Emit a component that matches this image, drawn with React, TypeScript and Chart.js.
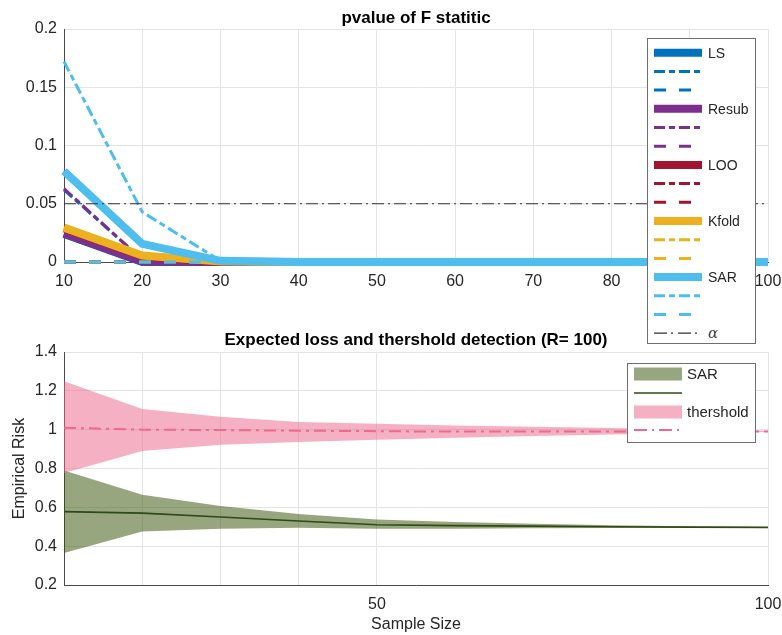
import React, { useEffect, useRef } from 'react';
import { Chart, registerables } from 'chart.js';

Chart.register(...registerables);

// ---------- shared ----------
const FONT = "'Liberation Sans', Arial, Helvetica, sans-serif";
const TEXT = '#262626';
const GRID = '#e4e4e4';
const AXIS = '#4a4a4a';

// ---------- top chart data ----------
const sampleSizes = [10, 20, 30, 40, 50, 60, 70, 80, 90, 100];
const topXTicks = [10, 20, 30, 40, 50, 60, 70, 80, 90, 100];
const pTicks = [0, 0.05, 0.1, 0.15, 0.2];
const methods = ['LS', 'Resub', 'LOO', 'Kfold', 'SAR'];
const methodColors = ['#0072BD', '#7E2F8E', '#A2142F', '#EDB120', '#4DBEEE'];
const alphaLevel = 0.05;

// solid = F test, dash-dot and dashed = variants
const lsSolid = [0.024, 0, 0, 0, 0, 0, 0, 0, 0, 0];
const lsDashDot = [0.062, 0.002, 0, 0, 0, 0, 0, 0, 0, 0];
const lsDashed = [0, 0, 0, 0, 0, 0, 0, 0, 0, 0];
const resubSolid = [0.0245, 0.0005, 0, 0, 0, 0, 0, 0, 0, 0];
const resubDashDot = [0.063, 0.002, 0, 0, 0, 0, 0, 0, 0, 0];
const resubDashed = [0, 0, 0, 0, 0, 0, 0, 0, 0, 0];
const looSolid = [0.029, 0.005, 0, 0, 0, 0, 0, 0, 0, 0];
const looDashDot = [0.078, 0.0155, 0.001, 0, 0, 0, 0, 0, 0, 0];
const looDashed = [0, 0, 0, 0, 0, 0, 0, 0, 0, 0];
const kfoldSolid = [0.0295, 0.0055, 0.0005, 0, 0, 0, 0, 0, 0, 0];
const kfoldDashDot = [0.029, 0.005, 0, 0, 0, 0, 0, 0, 0, 0];
const kfoldDashed = [0, 0, 0, 0, 0, 0, 0, 0, 0, 0];
const sarSolid = [0.078, 0.0155, 0.001, 0, 0, 0, 0, 0, 0, 0];
const sarDashDot = [0.172, 0.043, 0.001, 0, 0, 0, 0, 0, 0, 0];
const sarDashed = [0, 0, 0, 0, 0, 0, 0, 0, 0, 0];

const methodSeries = [
  [lsSolid, lsDashDot, lsDashed],
  [resubSolid, resubDashDot, resubDashed],
  [looSolid, looDashDot, looDashed],
  [kfoldSolid, kfoldDashDot, kfoldDashed],
  [sarSolid, sarDashDot, sarDashed],
];
const lineStyles = [
  { dash: [] as number[], width: 8 },
  { dash: [11, 4, 6, 4], width: 3 },
  { dash: [12, 13], width: 3 },
];
const alphaDash = [12, 4, 2, 4];

// ---------- bottom chart data ----------
const riskTicks = [0.2, 0.4, 0.6, 0.8, 1.0, 1.2, 1.4];
const bottomXTicks = [10, 20, 30, 40, 50, 100];
const bottomXLabels = [50, 100];
const sarMean = [0.578, 0.57, 0.55, 0.53, 0.51, 0.506, 0.503, 0.5, 0.498, 0.497];
const sarUpper = [0.79, 0.665, 0.607, 0.566, 0.537, 0.525, 0.515, 0.508, 0.503, 0.499];
const sarLower = [0.365, 0.475, 0.49, 0.495, 0.49, 0.49, 0.492, 0.494, 0.495, 0.496];
const thrMean = [1.01, 1.0, 0.998, 0.995, 0.992, 0.99, 0.99, 0.99, 0.99, 0.99];
const thrUpper = [1.25, 1.107, 1.066, 1.04, 1.03, 1.022, 1.015, 1.008, 1.0, 0.995];
const thrLower = [0.777, 0.89, 0.922, 0.937, 0.948, 0.958, 0.967, 0.975, 0.982, 0.988];

const SAR_FILL = 'rgba(47,77,0,0.5)';
const SAR_LINE = '#2f4a14';
const THR_FILL = 'rgba(237,97,137,0.5)';
const THR_LINE = '#ec6a92';
const thrDash = [12, 5, 3, 5];

const pts = (ys: number[]) => sampleSizes.map((x, i) => ({ x, y: ys[i] }));

const noSidePadding = (s: any) => {
  s.paddingLeft = 0;
  s.paddingRight = 0;
};

export default function App() {
  const topRef = useRef<HTMLCanvasElement>(null);
  const botRef = useRef<HTMLCanvasElement>(null);

  useEffect(() => {
    // ---------- top chart ----------
    const topDatasets: any[] = [];
    methods.forEach((m, i) => {
      methodSeries[i].forEach((ys, j) => {
        topDatasets.push({
          label: j === 0 ? m : '',
          data: pts(ys),
          borderColor: methodColors[i],
          backgroundColor: methodColors[i],
          borderWidth: lineStyles[j].width,
          borderDash: lineStyles[j].dash,
          pointRadius: 0,
          fill: false,
          tension: 0,
          clip: false,
          order: -(i * 3 + j),
        });
      });
    });
    topDatasets.push({
      label: 'α',
      data: [
        { x: sampleSizes[0], y: alphaLevel },
        { x: sampleSizes[sampleSizes.length - 1], y: alphaLevel },
      ],
      borderColor: '#333333',
      borderWidth: 1,
      borderDash: alphaDash,
      pointRadius: 0,
      fill: false,
      order: -100,
    });

    const topDecor = {
      id: 'topDecor',
      afterDraw(chart: any) {
        const ctx = chart.ctx as CanvasRenderingContext2D;
        const ca = chart.chartArea;
        ctx.save();
        ctx.fillStyle = '#000';
        ctx.font = `bold 17px ${FONT}`;
        ctx.textAlign = 'center';
        ctx.textBaseline = 'alphabetic';
        ctx.fillText('pvalue of F statitic', (ca.left + ca.right) / 2, 23);

        // legend
        const bx = 647.5, by = 38.5, bw = 108, bh = 305;
        ctx.fillStyle = '#ffffff';
        ctx.fillRect(bx, by, bw, bh);
        ctx.strokeStyle = '#6e6e6e';
        ctx.lineWidth = 1;
        ctx.setLineDash([]);
        ctx.strokeRect(bx, by, bw, bh);
        const rows: { label: string; color: string; dash: number[]; width: number; italic?: boolean }[] = [];
        methods.forEach((m, i) => {
          lineStyles.forEach((st, j) => {
            rows.push({ label: j === 0 ? m : '', color: methodColors[i], dash: st.dash, width: st.width });
          });
        });
        rows.push({ label: 'α', color: '#333333', dash: [13, 4, 2, 5], width: 1.2, italic: true });
        rows.forEach((r, k) => {
          const y = 52.7 + k * 18.7;
          ctx.beginPath();
          ctx.setLineDash(r.dash);
          ctx.lineWidth = r.width;
          ctx.strokeStyle = r.color;
          ctx.moveTo(654, y);
          ctx.lineTo(702, y);
          ctx.stroke();
          if (r.label) {
            ctx.setLineDash([]);
            ctx.fillStyle = r.italic ? '#444' : TEXT;
            ctx.font = r.italic ? `italic 15px 'DejaVu Serif', serif` : `14px ${FONT}`;
            ctx.textAlign = 'left';
            ctx.textBaseline = 'middle';
            ctx.fillText(r.label, 708, y + 1);
          }
        });
        ctx.restore();
      },
    };

    const topChart = new Chart(topRef.current!, {
      type: 'line',
      data: { datasets: topDatasets },
      plugins: [topDecor],
      options: {
        animation: false,
        responsive: false,
        layout: { padding: { top: 29, right: 14, left: 0, bottom: 0 } },
        plugins: { legend: { display: false }, tooltip: { enabled: false }, title: { display: false } },
        scales: {
          x: {
            type: 'linear',
            min: 10,
            max: 100,
            afterBuildTicks: (s: any) => {
              s.ticks = topXTicks.map((v) => ({ value: v }));
            },
            afterFit: (s: any) => {
              s.height = 88;
              noSidePadding(s);
            },
            grid: { color: GRID, drawTicks: false },
            border: { color: AXIS, width: 1 },
            ticks: {
              padding: 10,
              color: TEXT,
              font: { family: FONT, size: 16 },
              maxRotation: 0,
              autoSkip: false,
              callback: (v: any) => String(v),
            },
          },
          y: {
            type: 'linear',
            min: 0,
            max: 0.2,
            afterBuildTicks: (s: any) => {
              s.ticks = pTicks.map((v) => ({ value: v }));
            },
            afterFit: (s: any) => {
              s.width = 64;
            },
            grid: { color: GRID, drawTicks: false },
            border: { color: AXIS, width: 1 },
            ticks: {
              padding: 7,
              color: TEXT,
              font: { family: FONT, size: 16 },
              callback: (v: any) => String(v),
            },
          },
        },
      } as any,
    });

    // ---------- bottom chart ----------
    const botDatasets: any[] = [
      { label: 'SAR', data: pts(sarUpper), borderWidth: 0, pointRadius: 0, backgroundColor: SAR_FILL, fill: '+1', order: 6 },
      { label: 'sarLower', data: pts(sarLower), borderWidth: 0, pointRadius: 0, fill: false, order: 5 },
      { label: 'SAR mean', data: pts(sarMean), borderColor: SAR_LINE, borderWidth: 1.6, pointRadius: 0, fill: false, order: 4 },
      { label: 'thershold', data: pts(thrUpper), borderWidth: 0, pointRadius: 0, backgroundColor: THR_FILL, fill: '+1', order: 3 },
      { label: 'thrLower', data: pts(thrLower), borderWidth: 0, pointRadius: 0, fill: false, order: 2 },
      { label: 'thr mean', data: pts(thrMean), borderColor: THR_LINE, borderWidth: 2, borderDash: thrDash, pointRadius: 0, fill: false, order: 1 },
    ];

    const botDecor = {
      id: 'botDecor',
      afterDraw(chart: any) {
        const ctx = chart.ctx as CanvasRenderingContext2D;
        const ca = chart.chartArea;
        ctx.save();
        ctx.fillStyle = '#000';
        ctx.font = `bold 17px ${FONT}`;
        ctx.textAlign = 'center';
        ctx.textBaseline = 'alphabetic';
        ctx.fillText('Expected loss and thershold detection (R= 100)', (ca.left + ca.right) / 2, 45);

        const bx = 627.5, by = 63.5, bw = 128, bh = 79;
        ctx.fillStyle = '#ffffff';
        ctx.fillRect(bx, by, bw, bh);
        ctx.strokeStyle = '#6e6e6e';
        ctx.lineWidth = 1;
        ctx.strokeRect(bx, by, bw, bh);

        ctx.font = `15px ${FONT}`;
        ctx.textAlign = 'left';
        ctx.textBaseline = 'middle';
        // SAR patch
        ctx.fillStyle = SAR_FILL;
        ctx.fillRect(634, 74 - 6.5, 48, 13);
        ctx.fillStyle = TEXT;
        ctx.fillText('SAR', 687, 75);
        // SAR line
        ctx.beginPath();
        ctx.strokeStyle = SAR_LINE;
        ctx.lineWidth = 1.6;
        ctx.moveTo(634, 93);
        ctx.lineTo(682, 93);
        ctx.stroke();
        // threshold patch
        ctx.fillStyle = THR_FILL;
        ctx.fillRect(634, 112 - 6.5, 48, 13);
        ctx.fillStyle = TEXT;
        ctx.fillText('thershold', 687, 113);
        // threshold line
        ctx.beginPath();
        ctx.setLineDash([13, 5, 2, 5]);
        ctx.strokeStyle = THR_LINE;
        ctx.lineWidth = 2;
        ctx.moveTo(634, 130);
        ctx.lineTo(682, 130);
        ctx.stroke();
        ctx.restore();
      },
    };

    const botChart = new Chart(botRef.current!, {
      type: 'line',
      data: { datasets: botDatasets },
      plugins: [botDecor],
      options: {
        animation: false,
        responsive: false,
        layout: { padding: { top: 52, right: 14, left: 0, bottom: 0 } },
        plugins: { legend: { display: false }, tooltip: { enabled: false }, title: { display: false } },
        scales: {
          x: {
            type: 'linear',
            min: 10,
            max: 100,
            afterBuildTicks: (s: any) => {
              s.ticks = bottomXTicks.map((v) => ({ value: v }));
            },
            afterFit: (s: any) => {
              s.height = 50;
              noSidePadding(s);
            },
            grid: { color: GRID, drawTicks: false },
            border: { color: AXIS, width: 1 },
            title: {
              display: true,
              text: 'Sample Size',
              color: TEXT,
              font: { family: FONT, size: 16 },
              padding: { top: 0, bottom: 1 },
            },
            ticks: {
              padding: 10,
              color: TEXT,
              font: { family: FONT, size: 16 },
              maxRotation: 0,
              autoSkip: false,
              callback: (v: any) => (bottomXLabels.includes(v) ? String(v) : ''),
            },
          },
          y: {
            type: 'linear',
            min: 0.2,
            max: 1.4,
            afterBuildTicks: (s: any) => {
              s.ticks = riskTicks.map((v) => ({ value: v }));
            },
            afterFit: (s: any) => {
              s.width = 64;
            },
            grid: { color: GRID, drawTicks: false },
            border: { color: AXIS, width: 1 },
            title: {
              display: true,
              text: 'Empirical Risk',
              color: TEXT,
              font: { family: FONT, size: 16 },
              padding: { top: 10, bottom: 0 },
            },
            ticks: {
              padding: 7,
              color: TEXT,
              font: { family: FONT, size: 16 },
              callback: (v: any) => (v === 1 ? '1' : Number(v).toFixed(1)),
            },
          },
        },
      } as any,
    });

    return () => {
      topChart.destroy();
      botChart.destroy();
    };
  }, []);

  return (
    <div style={{ position: 'fixed', left: 0, top: 0, width: 782, height: 635, background: '#ffffff' }}>
      <canvas
        ref={botRef}
        width={782}
        height={335}
        style={{ position: 'absolute', left: 0, top: 300, zIndex: 1, display: 'block' }}
      />
      <canvas
        ref={topRef}
        width={782}
        height={350}
        style={{ position: 'absolute', left: 0, top: 0, zIndex: 2, display: 'block' }}
      />
    </div>
  );
}
